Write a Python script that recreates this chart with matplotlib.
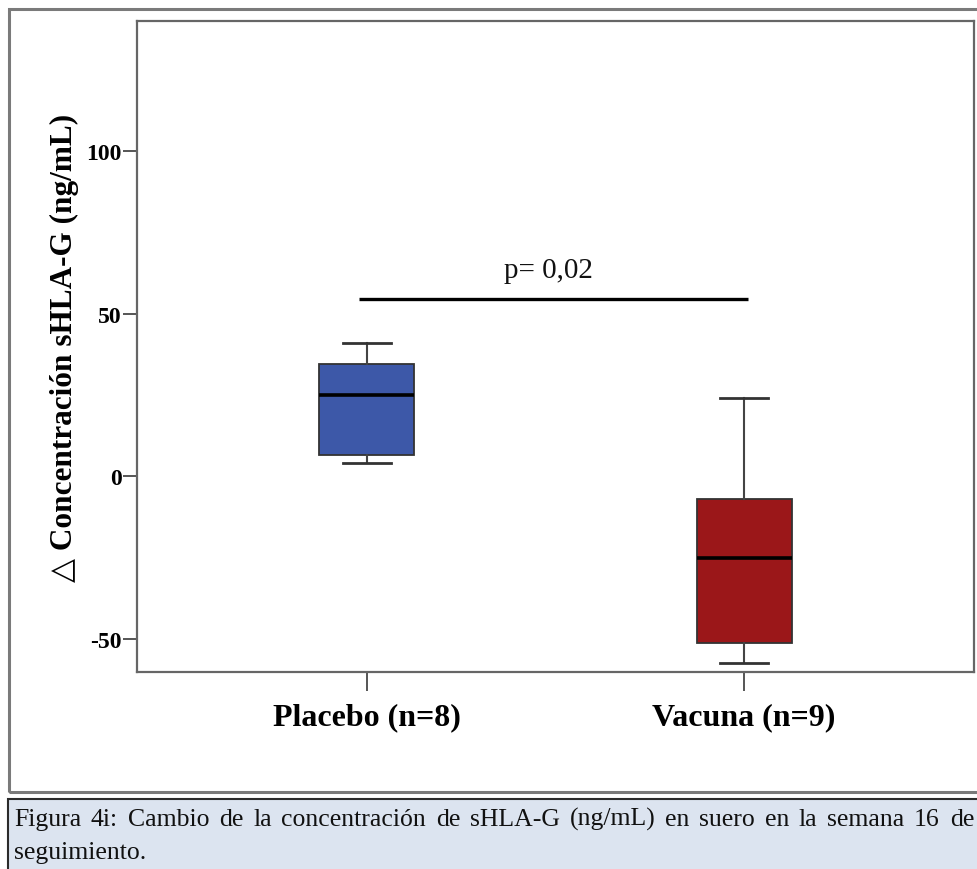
import matplotlib
matplotlib.use("Agg")
import matplotlib.pyplot as plt
from matplotlib.patches import Rectangle

# Box summary statistics (ng/mL change at week 16)
groups = ["Placebo (n=8)", "Vacuna (n=9)"]
whisker_low = [4.0, -57.5]
q1 = [6.5, -51.3]
median = [24.8, -25.3]
q3 = [34.5, -7.0]
whisker_high = [41.0, 24.0]
box_colors = ["#3d58a8", "#9b1719"]

y_ticks = [-50, 0, 50, 100]
p_label = "p= 0,02"
p_bar_y = 54.5
caption_line1 = "Figura 4i: Cambio de la concentración de sHLA-G (ng/mL) en suero en la semana 16 de"
caption_line2 = "seguimiento."

serif = ["Liberation Serif", "DejaVu Serif"]

fig = plt.figure(figsize=(9.77, 8.7), dpi=100)
W, H = 977, 870

def fx(px):
    return px / W

def fy(py):
    return 1 - py / H

# outer frame around the chart
fig.patches.append(Rectangle((fx(9), fy(793)), fx(990 - 9), (793 - 10) / H,
                             transform=fig.transFigure, fill=False,
                             edgecolor="#7a7a7a", linewidth=2.2, zorder=0))
# caption panel
fig.patches.append(Rectangle((fx(8), fy(880)), fx(990 - 8), (880 - 800) / H,
                             transform=fig.transFigure, facecolor="#dce4f0",
                             edgecolor="#2b2b2b", linewidth=1.5, zorder=0))

ax = fig.add_axes([fx(137), fy(673), fx(974 - 137), (673 - 22) / H])

stats = []
for i, g in enumerate(groups):
    stats.append(dict(label=g, whislo=whisker_low[i], q1=q1[i], med=median[i],
                      q3=q3[i], whishi=whisker_high[i], fliers=[]))

bp = ax.bxp(stats, positions=[1, 2], widths=0.252, patch_artist=True,
            showfliers=False,
            boxprops=dict(edgecolor="#333333", linewidth=1.3),
            medianprops=dict(color="black", linewidth=2.6),
            whiskerprops=dict(color="#444444", linewidth=1.5),
            capprops=dict(color="#333333", linewidth=2.0),
            capwidths=0.127)
for patch, c in zip(bp["boxes"], box_colors):
    patch.set_facecolor(c)

ax.set_xlim(0.39, 2.61)
ax.set_ylim(-60.3, 140)
ax.set_yticks(y_ticks)
ax.set_yticklabels([str(v) for v in y_ticks])
ax.set_xticks([1, 2])
ax.set_xticklabels(groups)

for lab in ax.get_yticklabels():
    lab.set_fontfamily(serif)
    lab.set_fontweight("bold")
    lab.set_fontsize(17)
for lab in ax.get_xticklabels():
    lab.set_fontfamily(serif)
    lab.set_fontweight("bold")
    lab.set_fontsize(23)

ax.tick_params(axis="y", direction="out", length=10, width=1.4, color="#555555", pad=1)
ax.tick_params(axis="x", direction="out", length=14, width=1.4, color="#555555", pad=8)
for s in ax.spines.values():
    s.set_color("#666666")
    s.set_linewidth(1.6)

ax.set_ylabel("\u25b3 Concentración sHLA-G (ng/mL)", fontfamily=serif,
              fontweight="bold", fontsize=22.5, labelpad=5)

# significance bar
ax.plot([0.98, 2.01], [p_bar_y, p_bar_y], color="black", linewidth=2.4,
        solid_capstyle="butt")
ax.text(1.48, 61.2, p_label, fontfamily=serif, fontsize=21, ha="center",
        va="baseline", color="#111111")

# caption, first line justified across the panel
fig.canvas.draw()
renderer = fig.canvas.get_renderer()
words = caption_line1.split(" ")
left_px, right_px = 14, 974
base1 = fy(826)
cap_size = 18.5
tmp = [fig.text(0, 0, w, fontfamily=serif, fontsize=cap_size) for w in words]
widths = [t.get_window_extent(renderer).width for t in tmp]
for t in tmp:
    t.remove()
gap = ((right_px - left_px) - sum(widths)) / (len(words) - 1)
x = left_px
for w, wd in zip(words, widths):
    fig.text(fx(x), base1, w, fontfamily=serif, fontsize=cap_size,
             va="baseline", ha="left", color="#111111")
    x += wd + gap
fig.text(fx(left_px), fy(859), caption_line2, fontfamily=serif, fontsize=cap_size,
         va="baseline", ha="left", color="#111111")

fig.savefig("out.png", dpi=100)
